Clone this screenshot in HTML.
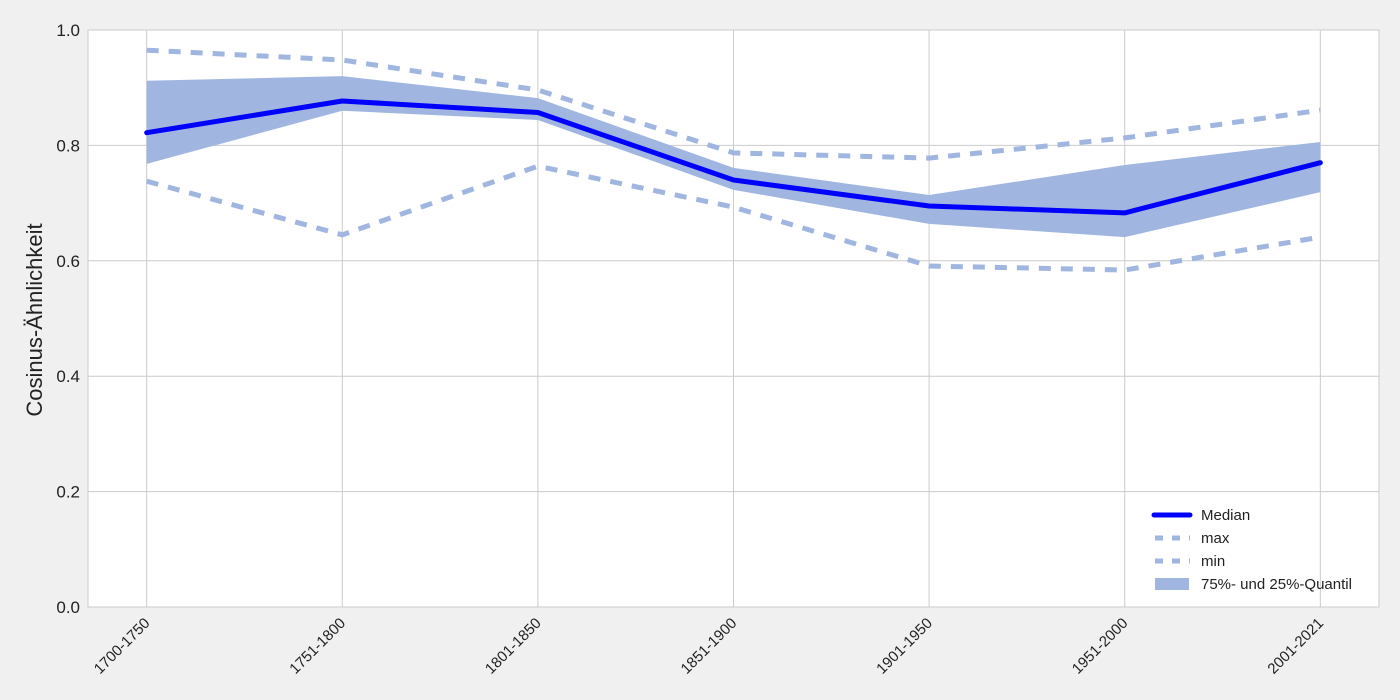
<!DOCTYPE html>
<html><head><meta charset="utf-8"><style>
body{margin:0;background:#f0f0f0;}
svg{display:block;font-family:"Liberation Sans",sans-serif;}
</style></head><body>
<svg id="chart" width="1400" height="700"></svg>
<script>
const categories=["1700-1750","1751-1800","1801-1850","1851-1900","1901-1950","1951-2000","2001-2021"];
const median=[0.822,0.877,0.857,0.740,0.695,0.683,0.770];
const maxVals=[0.965,0.948,0.896,0.787,0.778,0.813,0.861];
const minVals=[0.738,0.645,0.764,0.693,0.591,0.584,0.641];
const q75=[0.912,0.920,0.882,0.761,0.714,0.766,0.806];
const q25=[0.768,0.860,0.844,0.723,0.664,0.641,0.719];
const yTicks=[0,0.2,0.4,0.6,0.8,1.0];
const yTickLabels=["0.0","0.2","0.4","0.6","0.8","1.0"];

const NS="http://www.w3.org/2000/svg";
const svg=document.getElementById("chart");
const L=88,R=1379,T=30,B=607;
const x=i=>L+(i+0.3)/6.6*(R-L);
const y=v=>B-v*(B-T);
function el(tag,attrs,parent){const e=document.createElementNS(NS,tag);for(const k in attrs)e.setAttribute(k,attrs[k]);(parent||svg).appendChild(e);return e;}

const bg=el("rect",{x:L,y:T,width:R-L,height:B-T,fill:"#fff",stroke:"#cbcbcb","stroke-width":1});


yTicks.forEach((v,i)=>{
  const g=el("line",{x1:L,x2:R,y1:y(v),y2:y(v),stroke:"#cbcbcb","stroke-width":1});
  
  
  const t=el("text",{x:L-8,y:y(v)+6,"text-anchor":"end","font-size":17,fill:"#222"});
  t.textContent=yTickLabels[i];
  
  
});
categories.forEach((c,i)=>{
  const g=el("line",{x1:x(i),x2:x(i),y1:T,y2:B,stroke:"#cbcbcb","stroke-width":1});
  
  
  const t=el("text",{x:x(i)+4,y:B+17,"text-anchor":"end","font-size":15,fill:"#222",transform:`rotate(-45 ${x(i)+4} ${B+17})`});
  t.textContent=c;
  
  
});
let pts=q75.map((v,i)=>x(i)+","+y(v)).concat(q25.map((v,i)=>x(i)+","+y(v)).reverse());
const band=el("polygon",{points:pts.join(" "),fill:"#a0b6e0"});


function line(arr,attrs,name){
  const p=el("polyline",Object.assign({points:arr.map((v,i)=>x(i)+","+y(v)).join(" "),fill:"none"},attrs));
  
  
}
line(maxVals,{stroke:"#a0b6e0","stroke-width":5,"stroke-dasharray":"12 10"},"max-line");
line(minVals,{stroke:"#a0b6e0","stroke-width":5,"stroke-dasharray":"12 10"},"min-line");
line(median,{stroke:"#0000ff","stroke-width":5,"stroke-linejoin":"round","stroke-linecap":"round"},"median-line");

const yl=el("text",{x:42,y:320,"text-anchor":"middle","font-size":22,fill:"#222",transform:"rotate(-90 42 320)"});
yl.textContent="Cosinus-Ähnlichkeit";



const lg=el("g",{});


const items=[["Median","median"],["max","dash"],["min","dash"],["75%- und 25%-Quantil","band"]];
items.forEach((it,i)=>{
  const yy=515+i*23;
  if(it[1]=="median") el("line",{x1:1154,x2:1190,y1:yy,y2:yy,stroke:"#0000ff","stroke-width":5,"stroke-linecap":"round"},lg);
  else if(it[1]=="dash") el("line",{x1:1155,x2:1190,y1:yy,y2:yy,stroke:"#a0b6e0","stroke-width":5,"stroke-dasharray":"8 9"},lg);
  else el("rect",{x:1155,y:yy-6,width:34,height:12,fill:"#a0b6e0"},lg);
  const t=el("text",{x:1201,y:yy+5,"font-size":15,fill:"#222"},lg);
  t.textContent=it[0];
  
  
});
</script>
</body></html>
